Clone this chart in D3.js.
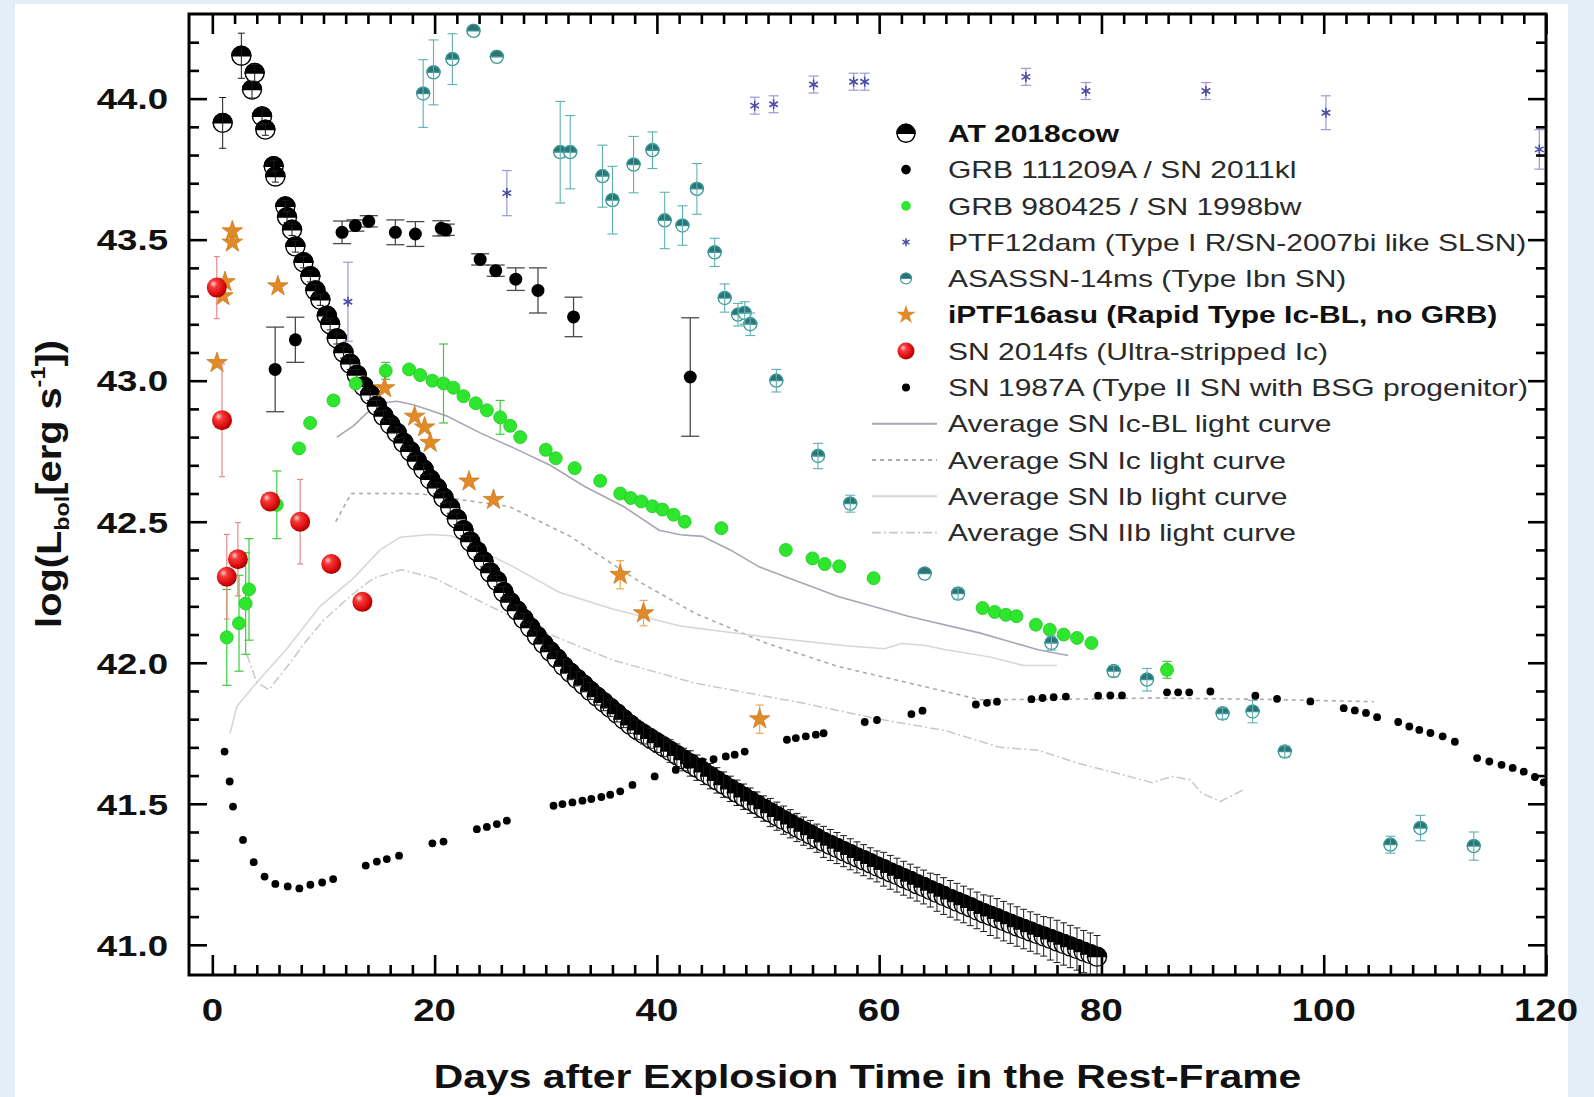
<!DOCTYPE html>
<html><head><meta charset="utf-8">
<script src="https://cdn.jsdelivr.net/npm/d3@7"></script>
<style>html,body{margin:0;padding:0;background:#e4eef9;}svg{display:block;}text{font-family:"Liberation Sans",Arial,sans-serif;}</style>
</head><body><svg id="c" width="1594" height="1097"></svg>
<script>
// ---------------- DATA ----------------
// [day, log L, error]
const at2018cow = [[0.93,43.914,0.09],[2.61,44.152,0.08],[3.57,44.032,0.03],[3.81,44.091,0.03],[4.47,43.937,0.03],[4.77,43.890,0.02],[5.52,43.760,0.02],[5.67,43.724,0.02],[6.57,43.618,0.02],[6.72,43.580,0.02],[7.17,43.535,0.02],[7.47,43.476,0.02],[8.20,43.420,0.02],[8.82,43.370,0.02],[9.27,43.320,0.02],[9.72,43.287,0.02],[10.3,43.230,0.02],[10.6,43.200,0.02],[11.2,43.150,0.02],[11.8,43.100,0.02],[12.4,43.060,0.02],[13.0,43.020,0.02],[13.6,42.980,0.02],[14.2,42.950,0.02],[14.8,42.910,0.02],[15.4,42.875,0.02],[16.0,42.845,0.02],[16.6,42.815,0.02],[17.2,42.780,0.02],[17.8,42.750,0.02],[18.4,42.715,0.02],[19.0,42.685,0.02],[19.6,42.650,0.02],[20.2,42.620,0.02],[20.8,42.585,0.02],[21.4,42.550,0.02],[22.0,42.510,0.02],[22.6,42.470,0.02],[23.2,42.430,0.02],[23.8,42.395,0.02],[24.4,42.360,0.02],[25.0,42.320,0.02],[25.6,42.290,0.02],[26.2,42.250,0.02],[26.8,42.215,0.02],[27.4,42.185,0.02],[28.0,42.155,0.02],[28.6,42.125,0.02],[29.2,42.095,0.02],[29.8,42.067,0.02],[30.4,42.040,0.02],[31.0,42.015,0.025],[31.6,41.988,0.025],[32.2,41.965,0.025],[32.8,41.943,0.025],[33.4,41.922,0.025],[34.0,41.900,0.03],[34.6,41.880,0.03],[35.2,41.860,0.03],[35.8,41.840,0.03],[36.4,41.820,0.03],[37.0,41.800,0.03],[37.6,41.780,0.03],[38.2,41.762,0.035],[38.8,41.747,0.035],[39.4,41.732,0.035],[40.0,41.717,0.035],[40.6,41.702,0.035],[41.2,41.687,0.04],[41.8,41.672,0.04],[42.4,41.657,0.04],[43.0,41.643,0.045],[43.6,41.628,0.045],[44.2,41.613,0.045],[44.8,41.598,0.045],[45.4,41.583,0.045],[46.0,41.568,0.045],[46.6,41.553,0.045],[47.2,41.539,0.045],[47.8,41.525,0.045],[48.4,41.511,0.045],[49.0,41.497,0.045],[49.6,41.483,0.045],[50.2,41.469,0.05],[50.8,41.456,0.05],[51.4,41.442,0.05],[52.0,41.429,0.05],[52.6,41.416,0.05],[53.2,41.403,0.05],[53.8,41.391,0.05],[54.4,41.378,0.05],[55.0,41.365,0.055],[55.6,41.354,0.055],[56.2,41.343,0.055],[56.8,41.332,0.055],[57.4,41.321,0.055],[58.0,41.310,0.055],[58.6,41.300,0.055],[59.2,41.289,0.055],[59.8,41.278,0.055],[60.4,41.268,0.06],[61.0,41.257,0.06],[61.6,41.247,0.06],[62.2,41.236,0.06],[62.8,41.226,0.06],[63.4,41.215,0.06],[64.0,41.205,0.06],[64.6,41.194,0.06],[65.2,41.184,0.065],[65.8,41.173,0.065],[66.4,41.163,0.065],[67.0,41.153,0.065],[67.6,41.143,0.065],[68.2,41.133,0.065],[68.8,41.122,0.065],[69.4,41.112,0.065],[70.0,41.103,0.07],[70.6,41.094,0.07],[71.2,41.084,0.07],[71.8,41.075,0.07],[72.4,41.065,0.07],[73.0,41.056,0.07],[73.6,41.047,0.07],[74.2,41.038,0.07],[74.8,41.030,0.07],[75.4,41.021,0.075],[76.0,41.012,0.075],[76.6,41.003,0.075],[77.2,40.994,0.075],[77.8,40.985,0.075],[78.4,40.976,0.075],[79.0,40.967,0.075],[79.6,40.958,0.075]];
const grb111209a = [[5.65,43.04,0.15],[7.47,43.145,0.08],[11.67,43.526,0.04],[12.87,43.55,0.02],[14.07,43.565,0.02],[16.47,43.526,0.044],[18.27,43.52,0.044],[20.6,43.54,0.027],[21.0,43.535,0.02],[24.1,43.43,0.02],[25.5,43.39,0.02],[27.3,43.36,0.04],[29.3,43.32,0.08],[32.5,43.226,0.07],[43.0,43.013,0.21]];
const sn1998bw = [[1.3,42.09,0.17],[2.4,42.14,0.17],[3.0,42.21,0.18],[3.3,42.26,0.18],[5.8,42.56,0.12],[7.8,42.76,0],[8.8,42.85,0],[10.9,42.93,0],[12.9,42.99,0],[15.6,43.035,0.03],[17.7,43.04,0],[18.7,43.02,0],[19.8,43.0,0],[20.8,42.99,0.14],[21.7,42.975,0],[22.6,42.945,0],[23.7,42.92,0],[24.7,42.895,0],[25.9,42.87,0.06],[26.8,42.84,0],[27.7,42.80,0],[30.0,42.755,0],[30.9,42.725,0],[32.6,42.69,0],[34.9,42.645,0],[36.7,42.60,0],[37.65,42.584,0],[38.6,42.572,0],[39.6,42.555,0],[40.5,42.543,0],[41.5,42.525,0],[42.5,42.50,0],[45.8,42.477,0],[51.6,42.40,0],[54.0,42.37,0],[55.1,42.35,0],[56.4,42.342,0],[59.5,42.30,0],[69.3,42.194,0],[70.4,42.18,0],[71.4,42.17,0],[72.35,42.165,0],[74.1,42.135,0],[75.35,42.117,0],[76.6,42.10,0],[77.8,42.088,0],[79.1,42.07,0],[85.9,41.975,0.03]];
const ptf12dam = [[12.2,43.28,0.14],[26.5,43.665,0.08],[48.8,43.975,0.03],[50.5,43.98,0.03],[54.1,44.05,0.03],[57.7,44.06,0.03],[58.7,44.06,0.03],[73.2,44.077,0.03],[78.6,44.027,0.03],[89.4,44.027,0.03],[100.2,43.95,0.06],[119.4,43.82,0.07]];
const asassn14ms = [[18.97,44.018,0.12],[19.9,44.093,0.115],[21.6,44.14,0.09],[23.5,44.24,0],[25.6,44.148,0],[31.3,43.81,0.18],[32.2,43.81,0.13],[35.1,43.725,0.11],[36.0,43.64,0.12],[37.9,43.766,0.10],[39.6,43.817,0.065],[40.7,43.568,0.10],[42.3,43.55,0.07],[43.6,43.68,0.09],[45.2,43.455,0.05],[46.1,43.293,0.05],[47.3,43.234,0.04],[47.9,43.24,0.04],[48.4,43.20,0.04],[50.75,43.0,0.04],[54.5,42.733,0.045],[57.4,42.564,0.03],[64.1,42.316,0],[67.1,42.245,0.02],[75.5,42.07,0.025],[81.1,41.97,0.02],[84.1,41.94,0.04],[90.9,41.82,0.02],[93.6,41.827,0.04],[96.5,41.685,0.02],[106.0,41.355,0.03],[108.7,41.414,0.045],[113.5,41.35,0.05]];
const iptf16asu = [[0.42,43.063,0],[0.95,43.30,0],[1.14,43.35,0],[1.8,43.49,0],[1.8,43.53,0],[5.9,43.335,0],[15.5,42.974,0],[18.2,42.873,0],[19.1,42.835,0],[19.6,42.78,0],[23.1,42.643,0],[25.3,42.578,0],[36.7,42.312,0.05],[38.8,42.176,0.045],[49.25,41.80,0.05]];
const sn2014fs = [[0.4,43.33,0.11],[0.87,42.86,0.2],[1.3,42.305,0.15],[2.3,42.367,0.13],[5.2,42.572,0],[7.9,42.50,0.15],[10.7,42.35,0],[13.5,42.216,0]];
// [day, log L]
const sn1987a = [[1.1,41.685],[1.56,41.579],[1.86,41.49],[2.76,41.372],[3.72,41.293],[4.7,41.242],[5.67,41.216],[6.78,41.207],[7.83,41.20],[8.82,41.213],[9.88,41.221],[10.87,41.233],[13.8,41.281],[14.8,41.295],[15.7,41.304],[16.8,41.316],[19.8,41.36],[20.8,41.366],[23.8,41.41],[24.7,41.418],[25.6,41.428],[26.5,41.44],[30.7,41.493],[31.5,41.499],[32.4,41.505],[33.3,41.511],[34.1,41.517],[35.0,41.524],[35.8,41.532],[36.7,41.544],[37.8,41.567],[39.8,41.597],[41.7,41.62],[42.7,41.638],[44.1,41.65],[45.1,41.658],[46.2,41.668],[47.0,41.674],[47.9,41.685],[51.7,41.727],[52.5,41.733],[53.4,41.739],[54.3,41.745],[55.0,41.75],[58.7,41.79],[59.8,41.797],[62.9,41.818],[63.9,41.83],[68.7,41.852],[69.7,41.858],[70.6,41.862],[73.7,41.871],[74.7,41.875],[75.7,41.878],[76.8,41.88],[79.7,41.883],[80.8,41.884],[81.85,41.884],[85.9,41.895],[86.9,41.895],[87.9,41.895],[89.8,41.898],[93.85,41.883],[95.8,41.872],[98.8,41.863],[101.8,41.839],[102.8,41.831],[103.8,41.822],[104.8,41.807],[106.7,41.79],[107.7,41.774],[108.6,41.762],[109.6,41.751],[110.7,41.739],[111.8,41.72],[113.8,41.662],[114.9,41.65],[116.0,41.638],[117.0,41.627],[118.0,41.614],[119.0,41.595],[119.8,41.576]];
// average template light curves [day, log L]
const avgIcBL = [[11.2,42.80],[12.7,42.84],[13.9,42.885],[15.1,42.92],[16.6,42.927],[18.1,42.915],[21.1,42.875],[24.1,42.815],[27.2,42.76],[30.4,42.70],[33.5,42.625],[37.0,42.554],[40.2,42.47],[42.1,42.454],[44.1,42.448],[46.6,42.40],[49.2,42.34],[51.5,42.306],[56.3,42.235],[62.7,42.164],[69.1,42.105],[74.3,42.046],[77.0,42.026]];
const avgIc = [[11.1,42.50],[12.5,42.60],[15.0,42.60],[17.5,42.60],[18.9,42.598],[22.0,42.58],[26.7,42.554],[32.2,42.448],[38.6,42.283],[43.4,42.176],[49.8,42.07],[56.3,41.987],[62.7,41.928],[69.1,41.869],[75.0,41.87],[85.0,41.875],[95.0,41.87],[104.5,41.862]];
const avgIb = [[1.6,41.75],[2.2,41.845],[4.0,41.93],[6.7,42.05],[9.7,42.20],[12.7,42.30],[15.1,42.40],[16.9,42.445],[19.6,42.455],[21.5,42.45],[24.0,42.40],[27.1,42.34],[31.2,42.25],[36.1,42.19],[42.1,42.13],[50.0,42.09],[57.0,42.06],[60.5,42.05],[62.0,42.068],[64.0,42.062],[66.0,42.046],[70.0,42.02],[73.0,41.99],[76.0,41.99]];
const avgIIb = [[3.1,42.03],[4.0,41.93],[5.1,41.905],[7.0,42.0],[8.5,42.08],[10.0,42.15],[12.4,42.236],[14.5,42.30],[17.0,42.33],[20.0,42.30],[25.0,42.20],[30.1,42.105],[36.0,42.01],[43.4,41.928],[53.1,41.857],[60.0,41.80],[65.9,41.76],[70.9,41.70],[74.3,41.69],[77.8,41.645],[84.6,41.575],[86.3,41.597],[88.0,41.585],[89.0,41.538],[90.7,41.508],[92.8,41.55]];

const xTickValues = [0,20,40,60,80,100,120];
const xTickLabels = ["0","20","40","60","80","100","120"];
const yTickValues = [41.0,41.5,42.0,42.5,43.0,43.5,44.0];
const yTickLabels = ["41.0","41.5","42.0","42.5","43.0","43.5","44.0"];
const legendLabels = ["AT 2018cow","GRB 111209A / SN 2011kl","GRB 980425 / SN 1998bw","PTF12dam (Type I R/SN-2007bi like SLSN)","ASASSN-14ms (Type Ibn SN)","iPTF16asu (Rapid Type Ic-BL, no GRB)","SN 2014fs (Ultra-stripped Ic)","SN 1987A (Type II SN with BSG progenitor)","Average SN Ic-BL light curve","Average SN Ic light curve","Average SN Ib light curve","Average SN IIb light curve"];
const xTitle = "Days after Explosion Time in the Rest-Frame";

// ---------------- DRAW ----------------
const svg = d3.select("#c");
svg.append("rect").attr("width",1594).attr("height",1097).attr("fill","#e4eef9");
svg.append("rect").attr("x",15).attr("y",4).attr("width",1553).attr("height",1093).attr("fill","#ffffff");

const M = {left:189, right:1546, top:14, bottom:975};
const x = d3.scaleLinear().domain([-2.1,120]).range([M.left,M.right]);
const y = d3.scaleLinear().domain([40.893,44.3]).range([M.bottom,M.top]);

const defs = svg.append("defs");
defs.append("clipPath").attr("id","clip").append("rect")
  .attr("x",M.left).attr("y",M.top).attr("width",M.right-M.left).attr("height",M.bottom-M.top);
const rg = defs.append("radialGradient").attr("id","ball").attr("cx","40%").attr("cy","38%").attr("r","62%").attr("fx","32%").attr("fy","30%");
rg.append("stop").attr("offset","0%").attr("stop-color","#ffd0d0");
rg.append("stop").attr("offset","30%").attr("stop-color","#f43a3a");
rg.append("stop").attr("offset","75%").attr("stop-color","#dd0d0d");
rg.append("stop").attr("offset","100%").attr("stop-color","#a80000");

const plot = svg.append("g").attr("clip-path","url(#clip)");

// template lines
const line = d3.line().x(d=>x(d[0])).y(d=>y(d[1])).curve(d3.curveLinear);
const lineStyles = [
  {data:avgIcBL, color:"#aaa5b6", dash:null, w:1.6},
  {data:avgIc, color:"#ababab", dash:"4,4", w:1.6},
  {data:avgIb, color:"#d6d6d6", dash:null, w:1.5},
  {data:avgIIb, color:"#c8c8c8", dash:"9,3,2,3", w:1.5}
];
lineStyles.forEach(s=>{
  plot.append("path").datum(s.data).attr("d",line).attr("fill","none")
    .attr("stroke",s.color).attr("stroke-width",s.w).attr("stroke-dasharray",s.dash);
});

function drawErr(data, color, cap, w){
  const f = data.filter(d=>d[2]>0);
  const g = plot.append("g").attr("stroke",color).attr("stroke-width",w);
  g.selectAll("line.ev").data(f).join("line").attr("class","ev")
    .attr("x1",d=>x(d[0])).attr("x2",d=>x(d[0]))
    .attr("y1",d=>y(d[1]-d[2])).attr("y2",d=>y(d[1]+d[2]));
  if(cap>0){
    g.selectAll("line.ct").data(f).join("line").attr("class","ct")
      .attr("x1",d=>x(d[0])-cap/2).attr("x2",d=>x(d[0])+cap/2)
      .attr("y1",d=>y(d[1]+d[2])).attr("y2",d=>y(d[1]+d[2]));
    g.selectAll("line.cb").data(f).join("line").attr("class","cb")
      .attr("x1",d=>x(d[0])-cap/2).attr("x2",d=>x(d[0])+cap/2)
      .attr("y1",d=>y(d[1]-d[2])).attr("y2",d=>y(d[1]-d[2]));
  }
}
function halfMarker(sel, r, top, bottom, stroke, sw){
  sel.append("circle").attr("r",r).attr("fill",bottom).attr("stroke",stroke).attr("stroke-width",sw);
  sel.append("path").attr("d",`M${-r},0A${r},${r} 0 0 1 ${r},0Z`).attr("fill",top).attr("stroke",stroke).attr("stroke-width",sw);
}
const tr = d=>`translate(${x(d[0])},${y(d[1])})`;

// AT 2018cow (error bars over markers, as in the original)
plot.append("g").selectAll("g").data(at2018cow).join("g").attr("transform",tr)
  .each(function(){ halfMarker(d3.select(this), 9.5, "#000", "#fff", "#000", 1.4); });
drawErr(at2018cow, "#1a1a1a", 7, 1);

// GRB 111209A
drawErr(grb111209a, "#4a4a4a", 18, 1.3);
plot.append("g").selectAll("circle").data(grb111209a).join("circle")
  .attr("cx",d=>x(d[0])).attr("cy",d=>y(d[1])).attr("r",6.5).attr("fill","#000");

// GRB 980425
drawErr(sn1998bw, "#3ccc3c", 9, 1.2);
plot.append("g").selectAll("circle").data(sn1998bw).join("circle")
  .attr("cx",d=>x(d[0])).attr("cy",d=>y(d[1])).attr("r",6.5).attr("fill","#2ee62e").attr("stroke","#22c822").attr("stroke-width",0.8);

// PTF12dam
drawErr(ptf12dam, "#9a9ad8", 10, 1.2);
plot.append("g").selectAll("path").data(ptf12dam).join("path").attr("transform",tr)
  .attr("d",d3.symbol().type(d3.symbolAsterisk).size(70)).attr("fill","none").attr("stroke","#4d4da8").attr("stroke-width",1.6);

// ASASSN-14ms
plot.append("g").selectAll("g").data(asassn14ms).join("g").attr("transform",tr)
  .each(function(){ halfMarker(d3.select(this), 6.5, "#2c7474", "#fff", "#3a9696", 1.3); });
drawErr(asassn14ms, "#5fb0b0", 10, 1.1);

// iPTF16asu
drawErr(iptf16asu, "#f0a850", 8, 1.2);
plot.append("g").selectAll("path").data(iptf16asu).join("path").attr("transform",tr)
  .attr("d",d3.symbol().type(d3.symbolStar).size(130)).attr("fill","#e08a2a").attr("stroke","#cc7818").attr("stroke-width",0.8);

// SN 2014fs
drawErr(sn2014fs, "#e88a8a", 6, 1.2);
plot.append("g").selectAll("circle").data(sn2014fs).join("circle")
  .attr("cx",d=>x(d[0])).attr("cy",d=>y(d[1])).attr("r",10).attr("fill","url(#ball)");

// SN 1987A
plot.append("g").selectAll("circle").data(sn1987a).join("circle")
  .attr("cx",d=>x(d[0])).attr("cy",d=>y(d[1])).attr("r",3.9).attr("fill","#000");

// ---------------- AXES ----------------
const xMinor = d3.range(2,120,2).filter(v=>v%20!==0);
const yMinor = d3.range(411,443,1).filter(v=>v%5!==0).map(v=>v/10);
function ticks(axisFn, scale, values, size, transform){
  const g = svg.append("g").attr("transform",transform)
    .call(axisFn(scale).tickValues(values).tickSize(size).tickFormat(""));
  g.select(".domain").remove();
  g.selectAll(".tick line").attr("stroke","#000").attr("stroke-width",2.6);
}
ticks(d3.axisBottom, x, xTickValues, -20, `translate(0,${M.bottom})`);
ticks(d3.axisBottom, x, xMinor, -10, `translate(0,${M.bottom})`);
ticks(d3.axisTop, x, xTickValues, -20, `translate(0,${M.top})`);
ticks(d3.axisTop, x, xMinor, -10, `translate(0,${M.top})`);
ticks(d3.axisLeft, y, yTickValues, -18, `translate(${M.left},0)`);
ticks(d3.axisLeft, y, yMinor, -10, `translate(${M.left},0)`);
ticks(d3.axisRight, y, yTickValues, -18, `translate(${M.right},0)`);
ticks(d3.axisRight, y, yMinor, -10, `translate(${M.right},0)`);

svg.append("rect").attr("x",M.left).attr("y",M.top).attr("width",M.right-M.left).attr("height",M.bottom-M.top)
  .attr("fill","none").attr("stroke","#000").attr("stroke-width",3);

// tick labels
svg.append("g").selectAll("text").data(xTickValues).join("text")
  .attr("transform",d=>`translate(${x(d)},1021) scale(1.2,1)`)
  .attr("text-anchor","middle").attr("font-size",32).attr("font-weight","bold").attr("fill","#111")
  .text((d,i)=>xTickLabels[i]);
svg.append("g").selectAll("text").data(yTickValues).join("text")
  .attr("transform",d=>`translate(168,${y(d)+10.8}) scale(1.22,1)`)
  .attr("text-anchor","end").attr("font-size",30).attr("font-weight","bold").attr("fill","#111")
  .text((d,i)=>yTickLabels[i]);

// axis titles
svg.append("text").attr("transform",`translate(${(M.left+M.right)/2},1088) scale(1.24,1)`)
  .attr("text-anchor","middle").attr("font-size",33).attr("font-weight","bold").attr("fill","#111").text(xTitle);
const yt = svg.append("text").attr("transform","translate(61,484) rotate(-90) scale(1.17,1.05)")
  .attr("text-anchor","middle").attr("font-size",34).attr("font-weight","bold").attr("fill","#111");
yt.append("tspan").text("log(L");
yt.append("tspan").attr("font-size",20).attr("dy",8).text("bol");
yt.append("tspan").attr("dy",-8).text("[erg s");
yt.append("tspan").attr("font-size",20).attr("dy",-15).text("-1");
yt.append("tspan").attr("dy",15).text("])");

// ---------------- LEGEND ----------------
const lg = svg.append("g");
const symX = 906, txtX = 948, rowY0 = 133.3, rowStep = 36.3;
legendLabels.forEach((lab,i)=>{
  const cy = rowY0 + i*rowStep;
  const s = lg.append("g").attr("transform",`translate(${symX},${cy})`);
  if(i===0) halfMarker(s, 9, "#000", "#fff", "#000", 1.4);
  else if(i===1) s.append("circle").attr("r",4.8).attr("fill","#000");
  else if(i===2) s.append("circle").attr("r",4.8).attr("fill","#2ee62e");
  else if(i===3) s.append("path").attr("d",d3.symbol().type(d3.symbolAsterisk).size(45)).attr("fill","none").attr("stroke","#4d4da8").attr("stroke-width",1.5);
  else if(i===4) halfMarker(s, 5.5, "#2c7474", "#fff", "#3a9696", 1.2);
  else if(i===5) s.append("path").attr("d",d3.symbol().type(d3.symbolStar).size(115)).attr("fill","#e08a2a");
  else if(i===6) s.append("circle").attr("r",8.5).attr("fill","url(#ball)");
  else if(i===7) s.append("circle").attr("r",4).attr("fill","#000");
  else {
    const st = lineStyles[i-8];
    s.append("line").attr("x1",-34).attr("x2",31).attr("y1",0).attr("y2",0)
      .attr("stroke",st.color).attr("stroke-width",st.w+0.4).attr("stroke-dasharray",st.dash);
  }
  lg.append("text").attr("transform",`translate(${txtX},${cy+8.6}) scale(1.25,1)`)
    .attr("font-size",24).attr("font-weight",(i===0||i===5)?"bold":"normal")
    .attr("fill",(i===0||i===5)?"#111":"#2a2a2a").text(lab);
});
</script></body></html>
